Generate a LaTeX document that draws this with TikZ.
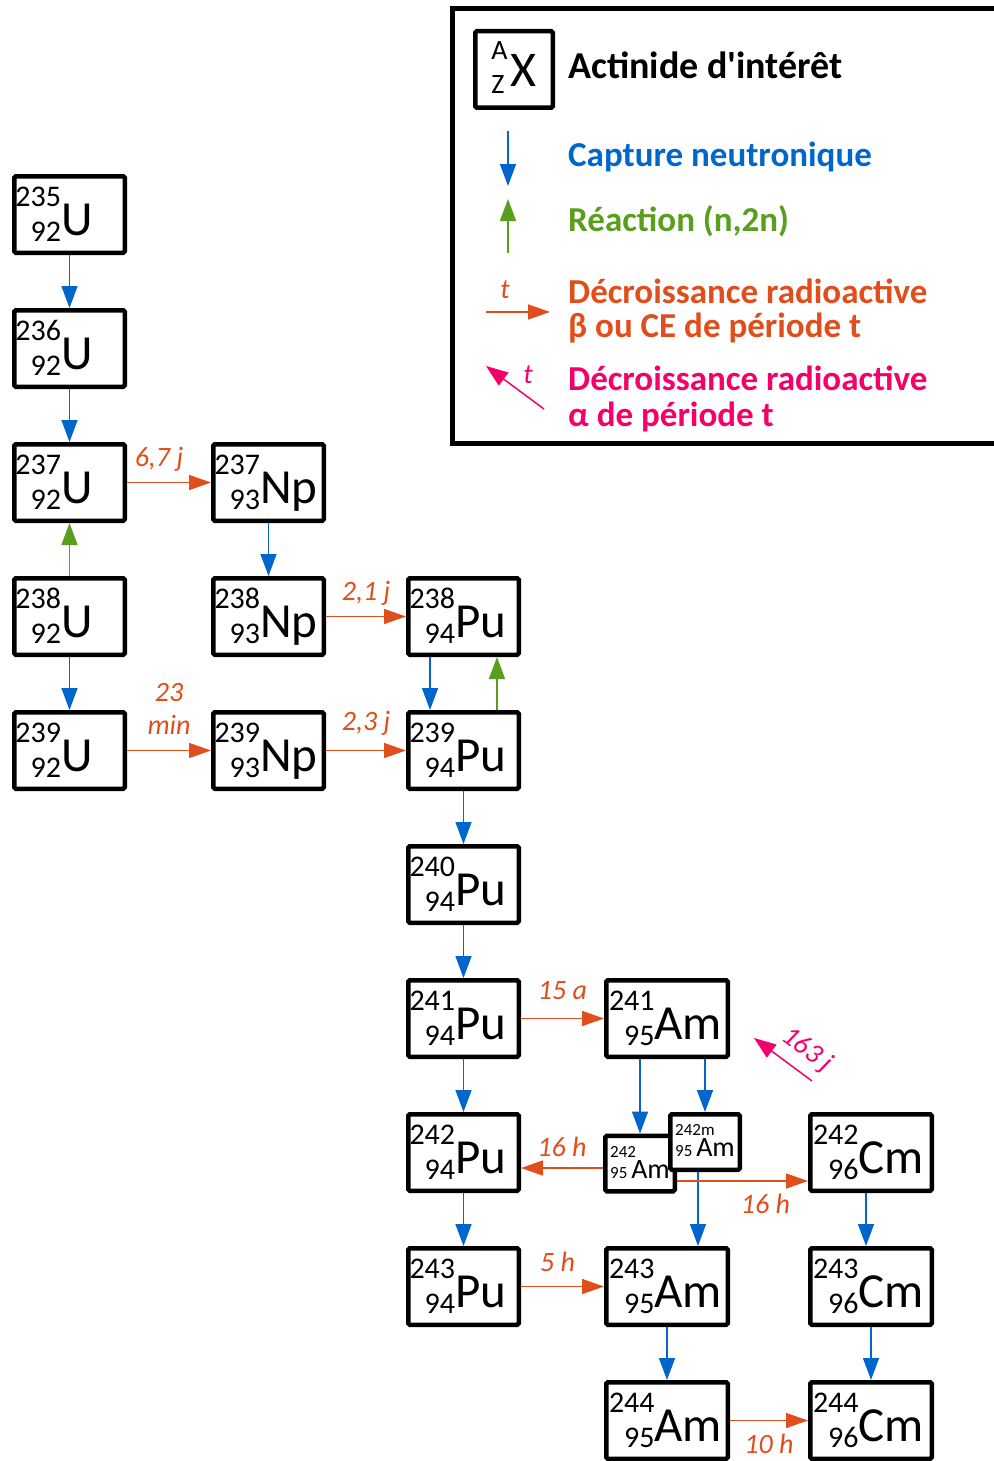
\documentclass[tikz,border=0pt]{standalone}
\usepackage{fontspec}
\setmainfont{Carlito}[Ligatures=TeXOff]
\usetikzlibrary{arrows.meta,positioning}

\definecolor{captc}{HTML}{0066CC}
\definecolor{n2nc}{HTML}{5A9E1E}
\definecolor{decayc}{HTML}{E04E1B}
\definecolor{alphac}{HTML}{F5006A}

% nuclide text: mass and charge numbers stacked, then the symbol
\newcommand{\iso}[4][108pt]{\makebox[#1][l]{{\fontsize{30}{35}\selectfont\raisebox{-6pt}{\begin{tabular}[b]{@{}r@{}}#2\\#3\end{tabular}}}{\fontsize{49}{49}\selectfont #4}}}
\newcommand{\isosmall}[3]{{\fontsize{17}{21}\selectfont\begin{tabular}[b]{@{}l@{}}#1\\#2 \smash{\fontsize{28}{28}\selectfont #3}\end{tabular}}}

\begin{document}
\begin{tikzpicture}[x=1pt,y=-1pt,
	nuc/.style={draw, line width=4.5pt, rounded corners=1.5pt, fill=white, inner sep=0pt,
		minimum width=110.5pt, minimum height=76.5pt, text height=57.5pt, text depth=16.5pt},
	wide/.style={nuc, minimum width=121.5pt},
	smallnuc/.style={draw, line width=4.5pt, rounded corners=1.5pt, fill=white, inner sep=0pt,
		minimum width=69.5pt, minimum height=55.5pt},
	capt/.style={-{Triangle[length=22pt,width=16pt]}, draw=captc, fill=captc, line width=1.5pt},
	n2n/.style={-{Triangle[length=22pt,width=16pt]}, draw=n2nc, fill=n2nc, line width=1.5pt},
	decay/.style={-{Triangle[length=22pt,width=15pt]}, draw=decayc, fill=decayc, line width=1.5pt},
	alpha/.style={-{Triangle[length=22pt,width=16pt]}, draw=alphac, fill=alphac, line width=1.5pt},
	tfont/.style={font=\fontsize{28}{33}\selectfont\itshape, text=decayc, inner sep=0pt},
	tlabel/.style={tfont, text height=18pt, text depth=6pt},
	legtext/.style={anchor=base west, inner sep=0pt, font=\fontsize{35}{35}\selectfont\bfseries}]
	\useasboundingbox (0,0) rectangle (993,1461);

	% legend
	\draw[line width=4.5pt] (452.5,8.5) rectangle (1010,443.5);
	\node[nuc, minimum width=77.5pt, text height=50.8pt, text depth=17.2pt] (key) at (514,69.5)
		{{\fontsize{28}{34}\selectfont\raisebox{-7pt}{\begin{tabular}[b]{@{}l@{}}A\\Z\end{tabular}}}\hspace{3pt}{\fontsize{50}{50}\selectfont X}};
	\node[legtext, font=\fontsize{38}{38}\selectfont\bfseries] (keytxt) at (568,79) {Actinide d'intérêt};

	\coordinate (captA) at (508,131);
	\coordinate (captB) at (508,186);
	\draw[capt] (captA) -- (captB);
	\node[legtext, text=captc] (capttxt) at (568,166) {Capture neutronique};

	\coordinate (n2nA) at (508,253);
	\coordinate (n2nB) at (508,199);
	\draw[n2n] (n2nA) -- (n2nB);
	\node[legtext, text=n2nc] (n2ntxt) at (568,231) {Réaction (n,2n)};

	\coordinate (betaA) at (486,312);
	\coordinate (betaB) at (550,312);
	\draw[decay] (betaA) -- (betaB);
	\node[tfont] (betat) at (505,290) {t};
	\node[legtext, text=decayc] (betatxt1) at (568,303) {Décroissance radioactive};
	\node[legtext, text=decayc] (betatxt2) at (568,337) {β ou CE de période t};

	\coordinate (alphaA) at (544,409);
	\coordinate (alphaB) at (486,366);
	\draw[alpha] (alphaA) -- (alphaB);
	\node[tfont, text=alphac] (alphat) at (528,375) {t};
	\node[legtext, text=alphac] (alphatxt1) at (568,390) {Décroissance radioactive};
	\node[legtext, text=alphac] (alphatxt2) at (568,426) {α de période t};

	% uranium
	\node[nuc] (u235) at (69.5,214.5) {\iso{235}{92}{U}};
	\node[nuc] (u236) at (69.5,348.5) {\iso{236}{92}{U}};
	\node[nuc] (u237) at (69.5,482.5) {\iso{237}{92}{U}};
	\node[nuc] (u238) at (69.5,616.5) {\iso{238}{92}{U}};
	\node[nuc] (u239) at (69.5,750.5) {\iso{239}{92}{U}};
	% neptunium
	\node[nuc] (np237) at (268.5,482.5) {\iso{237}{93}{Np}};
	\node[nuc] (np238) at (268.5,616.5) {\iso{238}{93}{Np}};
	\node[nuc] (np239) at (268.5,750.5) {\iso{239}{93}{Np}};
	% plutonium
	\node[nuc] (pu238) at (463.5,616.5) {\iso{238}{94}{Pu}};
	\node[nuc] (pu239) at (463.5,750.5) {\iso{239}{94}{Pu}};
	\node[nuc] (pu240) at (463.5,884.5) {\iso{240}{94}{Pu}};
	\node[nuc] (pu241) at (463.5,1018.5) {\iso{241}{94}{Pu}};
	\node[nuc] (pu242) at (463.5,1152.5) {\iso{242}{94}{Pu}};
	\node[nuc] (pu243) at (463.5,1286.5) {\iso{243}{94}{Pu}};
	% americium
	\node[wide] (am241) at (667,1018.5) {\iso[116pt]{241}{95}{Am}};
	\node[smallnuc] (am242) at (640,1163.5) {\isosmall{242}{95}{Am}};
	\node[smallnuc] (am242m) at (705,1142) {\isosmall{242m}{95}{Am}};
	\node[wide] (am243) at (667,1286.5) {\iso[116pt]{243}{95}{Am}};
	\node[wide] (am244) at (667,1420.5) {\iso[116pt]{244}{95}{Am}};
	% curium
	\node[wide] (cm242) at (871,1152.5) {\iso[116pt]{242}{96}{Cm}};
	\node[wide] (cm243) at (871,1286.5) {\iso[116pt]{243}{96}{Cm}};
	\node[wide] (cm244) at (871,1420.5) {\iso[116pt]{244}{96}{Cm}};

	% captures and (n,2n)
	\draw[capt] (u235) -- (u236);
	\draw[capt] (u236) -- (u237);
	\draw[n2n] (u238) -- (u237);
	\draw[capt] (u238) -- (u239);
	\draw[capt] (np237) -- (np238);
	\draw[capt] ([xshift=-33.5pt]pu238.south) -- ([xshift=-33.5pt]pu239.north);
	\draw[n2n] ([xshift=33.5pt]pu239.north) -- ([xshift=33.5pt]pu238.south);
	\draw[capt] (pu239) -- (pu240);
	\draw[capt] (pu240) -- (pu241);
	\draw[capt] (pu241) -- (pu242);
	\draw[capt] (pu242) -- (pu243);
	\draw[capt] (am242.north |- am241.south) -- (am242.north);
	\draw[capt] (am242m.north |- am241.south) -- (am242m.north);
	\draw[capt] ([xshift=-7pt]am242m.south) -- ([xshift=-7pt]am242m.south |- am243.north);
	\draw[capt] (am243) -- (am244);
	\draw[capt] ([xshift=-5pt]cm242.south) -- ([xshift=-5pt]cm243.north);
	\draw[capt] (cm243) -- (cm244);

	% beta and EC decays
	\draw[decay] (u237) -- node[tlabel, above=9pt, xshift=-10pt] {6,7 j} (np237);
	\draw[decay] (np238) -- node[tlabel, above=9pt] {2,1 j} (pu238);
	\draw[decay] (u239) -- node[tfont, align=center, above=15pt] {23\\min} (np239);
	\draw[decay] (np239) -- node[tlabel, above=13pt] {2,3 j} (pu239);
	\draw[decay] (pu241) -- node[tlabel, above=12pt] {15 a} (am241);
	\coordinate (ec242) at ([yshift=-4.5pt]am242.west);
	\draw[decay] (ec242) -- node[tlabel, above=5pt] {16 h} (ec242 -| pu242.east);
	\coordinate (bm242) at ([yshift=-17.5pt]am242.east);
	\draw[decay] (bm242) -- node[tlabel, below=14pt, xshift=23pt] {16 h} (bm242 -| cm242.west);
	\draw[decay] (pu243) -- node[tlabel, above=8pt, xshift=-5pt] {5 h} (am243);
	\draw[decay] (am244) -- node[tlabel, below=14pt] {10 h} (cm244);

	% alpha decay
	\coordinate (alphatail) at (812,1081);
	\coordinate (alphatip) at (754,1038);
	\draw[alpha] (alphatail) -- (alphatip);
	\node[tfont, text=alphac, rotate=-36.6] (alphalbl) at (807,1050) {163 j};
\end{tikzpicture}
\end{document}
